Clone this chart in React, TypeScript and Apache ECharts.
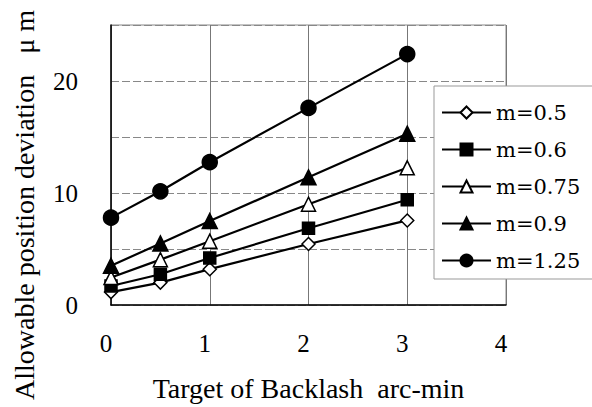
import React, { useEffect, useRef } from "react";
import * as echarts from "echarts";

const xValues = [0, 0.5, 1, 2, 3];
const seriesNames = ["m=0.5", "m=0.6", "m=0.75", "m=0.9", "m=1.25"];
const m05 = [1.15, 2.0, 3.2, 5.45, 7.55];
const m06 = [1.7, 2.75, 4.2, 6.85, 9.4];
const m075 = [2.45, 4.05, 5.7, 9.0, 12.25];
const m09 = [3.5, 5.5, 7.5, 11.4, 15.3];
const m125 = [7.8, 10.15, 12.75, 17.6, 22.4];
const seriesValues = [m05, m06, m075, m09, m125];
const xTicks = [0, 1, 2, 3, 4];
const yTickLabels = [0, 10, 20];

const DIAMOND = "path://M0,-1 L1,0 L0,1 L-1,0 Z";

const symbols = [
  { symbol: DIAMOND, size: 13, fill: "#fff" },
  { symbol: "rect", size: 12, fill: "#000" },
  { symbol: "triangle", size: 14, fill: "#fff" },
  { symbol: "triangle", size: 15, fill: "#000" },
  { symbol: "circle", size: 15, fill: "#000" },
];

const FONT = "Liberation Serif";
const LEGEND_FONT = "DejaVu Serif";

export default function App() {
  const ref = useRef<HTMLDivElement>(null);
  useEffect(() => {
    if (!ref.current) return;
    const chart = echarts.init(ref.current, null, { renderer: "svg" });
    chart.setOption({
      animation: false,
      backgroundColor: "#fff",
      textStyle: { fontFamily: FONT, color: "#000" },
      grid: {
        left: 111,
        top: 25,
        right: 86,
        bottom: 99,
        show: true,
        borderColor: "#888",
        borderWidth: 1,
      },
      xAxis: {
        type: "value",
        min: 0,
        max: 4,
        interval: 1,
        name: "Target of Backlash  arc-min",
        nameLocation: "middle",
        nameGap: 69,
        nameTextStyle: { fontFamily: FONT, fontSize: 28, color: "#000" },
        axisLine: { show: true, onZero: false, lineStyle: { color: "#000", width: 1.5 } },
        axisTick: { show: false },
        axisLabel: {
          fontFamily: FONT,
          fontSize: 25,
          color: "#000",
          margin: 26,
          padding: [0, 10, 0, 0],
          formatter: (v: number) => (xTicks.includes(v) ? String(v) : ""),
        },
        splitLine: { show: true, lineStyle: { color: "#777", width: 1 } },
      },
      yAxis: {
        type: "value",
        min: 0,
        max: 25,
        interval: 5,
        axisLine: { show: true, lineStyle: { color: "#000", width: 1.5 } },
        axisTick: { show: false },
        axisLabel: {
          fontFamily: FONT,
          fontSize: 25,
          color: "#000",
          margin: 33,
          formatter: (v: number) => (yTickLabels.includes(v) ? String(v) : ""),
        },
        splitLine: { show: true, lineStyle: { color: "#888", width: 1, type: [8, 3] } },
      },
      legend: {
        orient: "vertical",
        left: 434,
        top: 86,
        padding: [16, 40, 8, 7],
        itemWidth: 49,
        itemHeight: 15,
        itemGap: 16,
        backgroundColor: "#fff",
        borderColor: "#999",
        borderWidth: 1,
        textStyle: { fontFamily: LEGEND_FONT, fontSize: 21, color: "#000", padding: [0, 0, 0, 0] },
        data: seriesNames,
      },
      graphic: [
        {
          type: "text",
          x: 24,
          y: 205,
          rotation: Math.PI / 2,
          style: {
            text: "Allowable position deviation   μ m",
            font: `28px "${FONT}"`,
            fill: "#000",
            align: "center",
            verticalAlign: "middle",
          },
        },
      ],
      series: seriesNames.map((name, i) => ({
        name,
        type: "line",
        data: xValues.map((x, j) => [x, seriesValues[i][j]]),
        symbol: symbols[i].symbol,
        symbolSize: symbols[i].size,
        showAllSymbol: true,
        lineStyle: { color: "#000", width: 2.2 },
        itemStyle: { color: symbols[i].fill, borderColor: "#000", borderWidth: 1.5 },
        z: 3,
      })),
    });
    return () => chart.dispose();
  }, []);
  return <div ref={ref} style={{ width: 592, height: 407, position: "absolute", left: 0, top: 0 }} />;
}
